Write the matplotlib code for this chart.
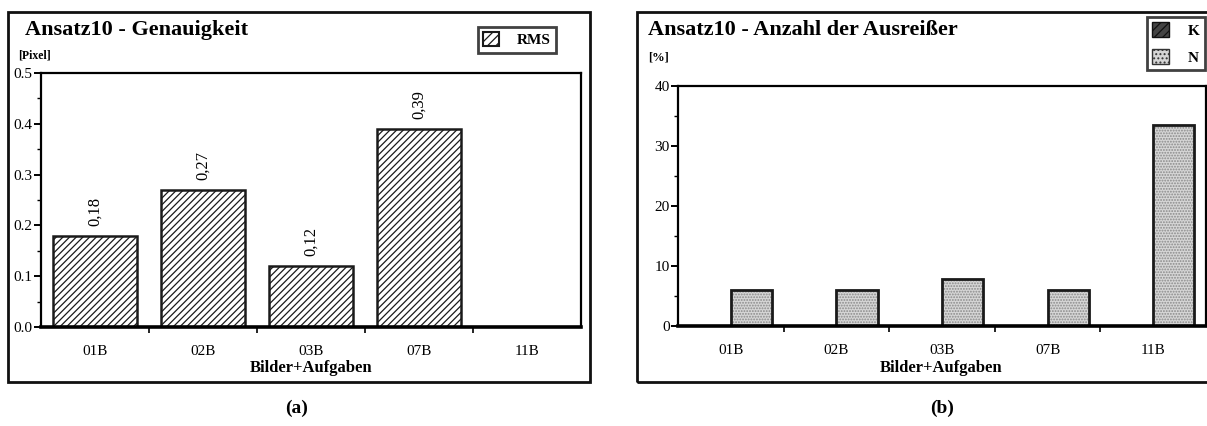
"""Two-panel bar chart: Ansatz10 accuracy (RMS) and outlier share per image/task."""

import matplotlib

matplotlib.use("Agg")
import matplotlib.pyplot as plt  # noqa: E402
from matplotlib.patches import Patch, Rectangle  # noqa: E402
from matplotlib.ticker import MultipleLocator  # noqa: E402

W, H = 1207, 426

categories = ["01B", "02B", "03B", "07B", "11B"]
rms = [0.18, 0.27, 0.12, 0.39, 0.0]
outliers_k = [0.0, 0.0, 0.0, 0.0, 0.0]
outliers_n = [6.0, 6.0, 7.8, 6.0, 33.5]

plt.rcParams["font.family"] = ["Liberation Serif", "DejaVu Serif"]
plt.rcParams["hatch.linewidth"] = 0.9


def fx(px):
    return px / W


def fy(py):
    return 1 - py / H


def style_axes(ax):
    for side in ("left", "right", "top", "bottom"):
        ax.spines[side].set_linewidth(1.6)
    ax.spines["bottom"].set_linewidth(2.6)
    ax.set_xlim(-0.5, len(categories) - 0.5)
    ax.set_xticks(range(len(categories)))
    ax.set_xticklabels(categories)
    ax.set_xticks([i + 0.5 for i in range(len(categories) - 1)], minor=True)
    ax.tick_params(axis="x", which="major", length=0, pad=13, labelsize=11)
    ax.tick_params(axis="x", which="minor", length=4, width=1.2, direction="out")
    ax.tick_params(axis="y", which="major", length=5, width=1.4, direction="out",
                   pad=1, labelsize=11)
    ax.tick_params(axis="y", which="minor", length=3, width=1.0, direction="out")


fig = plt.figure(figsize=(W / 100, H / 100), dpi=100)

# outer frames of both panels (the right one runs past the page edge)
for x0, x1 in ((8, 590), (637, 1240)):
    fig.patches.append(Rectangle((fx(x0), fy(382)), fx(x1 - x0), (382 - 12) / H,
                                 transform=fig.transFigure, fill=False,
                                 edgecolor="#111111", linewidth=2.0))

# (a) accuracy
ax1 = fig.add_axes([fx(41), fy(327), fx(581 - 41), (327 - 73) / H])
x = list(range(len(categories)))
ax1.bar(x, rms, width=0.78, facecolor="white", edgecolor="#1a1a1a",
        hatch="/////", linewidth=1.8)
for xi, v in zip(x, rms):
    if v > 0:
        ax1.annotate(f"{v:.2f}".replace(".", ","), (xi, v), xytext=(0, 7),
                     textcoords="offset points", rotation=90, ha="center",
                     va="bottom", fontsize=12)
ax1.set_ylim(0, 0.5)
ax1.yaxis.set_major_locator(MultipleLocator(0.1))
ax1.yaxis.set_minor_locator(MultipleLocator(0.05))
ax1.yaxis.set_major_formatter(lambda v, _: f"{v:.1f}")
style_axes(ax1)

fig.text(fx(25), fy(30), "Ansatz10 - Genauigkeit", fontsize=16,
         fontweight="bold", va="center")
fig.text(fx(18), fy(55), "[Pixel]", fontsize=8.5, fontweight="bold", va="center")
fig.text(fx(311), fy(368), "Bilder+Aufgaben", fontsize=12, fontweight="bold",
         ha="center", va="center")
fig.text(fx(297), fy(408), "(a)", fontsize=14, fontweight="bold",
         ha="center", va="center")

leg1 = fig.legend(handles=[Patch(facecolor="white", edgecolor="#1a1a1a",
                                 hatch="////", linewidth=1.5, label="RMS")],
                  loc="upper left", bbox_to_anchor=(fx(478), fy(27)),
                  borderaxespad=0, frameon=True, fancybox=False,
                  handlelength=1.0, handleheight=1.0, handletextpad=1.2,
                  borderpad=0.35, prop={"weight": "bold", "size": 11})
leg1.get_frame().set_edgecolor("#111111")
leg1.get_frame().set_linewidth(2.0)

# (b) outlier share
ax2 = fig.add_axes([fx(678), fy(326), fx(1206 - 678), (326 - 86) / H])
ax2.bar([xi - 0.39 for xi in x], outliers_k, width=0.39, align="edge",
        facecolor="#444444", edgecolor="#111111", linewidth=2.0)
ax2.bar(x, outliers_n, width=0.39, align="edge", facecolor="#d6d6d6",
        edgecolor="#8a8a8a", hatch="......", linewidth=0)
ax2.bar(x, outliers_n, width=0.39, align="edge", fill=False,
        edgecolor="#1a1a1a", linewidth=2.0)
ax2.set_ylim(0, 40)
ax2.yaxis.set_major_locator(MultipleLocator(10))
ax2.yaxis.set_minor_locator(MultipleLocator(5))
style_axes(ax2)

fig.text(fx(648), fy(30), "Ansatz10 - Anzahl der Ausreißer", fontsize=16,
         fontweight="bold", va="center")
fig.text(fx(648), fy(57), "[%]", fontsize=9, fontweight="bold", va="center")
fig.text(fx(941), fy(368), "Bilder+Aufgaben", fontsize=12, fontweight="bold",
         ha="center", va="center")
fig.text(fx(942), fy(408), "(b)", fontsize=14, fontweight="bold",
         ha="center", va="center")

leg2 = fig.legend(handles=[Patch(facecolor="#444444", edgecolor="#111111",
                                 hatch="////", label="K"),
                           Patch(facecolor="#d6d6d6", edgecolor="#333333",
                                 hatch="....", label="N")],
                  loc="upper left", bbox_to_anchor=(fx(1147), fy(17)),
                  borderaxespad=0, frameon=True, fancybox=False,
                  handlelength=1.1, handleheight=1.1, handletextpad=1.2,
                  borderpad=0.35, labelspacing=0.75,
                  prop={"weight": "bold", "size": 11})
leg2.get_frame().set_edgecolor("#111111")
leg2.get_frame().set_linewidth(2.0)

fig.savefig("out.png", dpi=100)
